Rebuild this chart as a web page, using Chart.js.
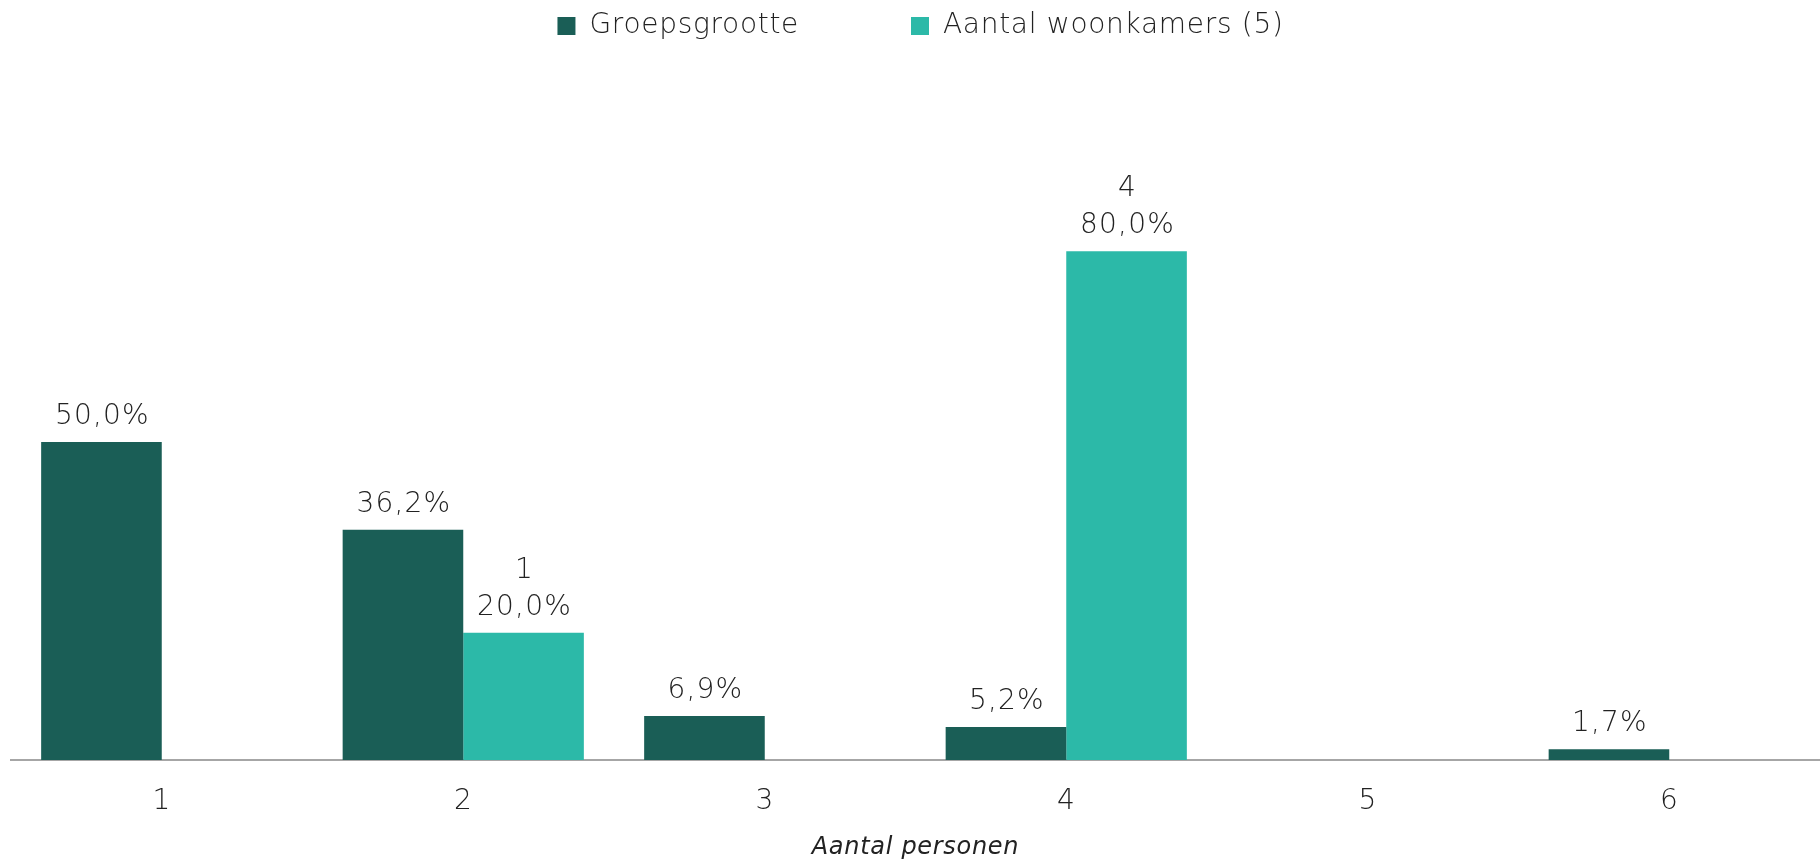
<!DOCTYPE html>
<html>
<head>
<meta charset="utf-8">
<script src="https://cdn.jsdelivr.net/npm/chart.js@4/dist/chart.umd.min.js"></script>
<style>
  html, body { margin: 0; padding: 0; background: #fff; }
  canvas { display: block; }
</style>
</head>
<body>
<canvas id="myChart" width="1820" height="864"></canvas>
<script>
const categories = ['1', '2', '3', '4', '5', '6'];
const groepsgrootte = [50.0, 36.2, 6.9, 5.2, null, 1.7];
const woonkamers = [null, 20.0, null, 80.0, null, null];
const woonkamersAantal = [null, 1, null, 4, null, null];

const FONT = '"DejaVu Sans", sans-serif';
const TEXT = '#222222';

function pct(v) {
    return v.toFixed(1).replace('.', ',') + '%';
}

/* ruimte onder de legenda + iets bredere letters */
const legendSpacer = {
    id: 'legendSpacer',
    beforeInit(chart) {
        const fit = chart.legend.fit;
        chart.legend.fit = function () {
            fit.bind(chart.legend)();
            this.height += 74;
        };
    },
    beforeUpdate(chart) {
        chart.ctx.letterSpacing = '0.7px';
    }
};

/* waarden boven de staven */
const barLabels = {
    id: 'barLabels',
    afterDatasetsDraw(chart) {
        const ctx = chart.ctx;
        ctx.save();
        ctx.font = '300 28px ' + FONT;
        ctx.letterSpacing = '1.2px';
        ctx.fillStyle = TEXT;
        ctx.textAlign = 'center';
        ctx.textBaseline = 'alphabetic';
        chart.data.datasets.forEach(function (ds, i) {
            chart.getDatasetMeta(i).data.forEach(function (bar, j) {
                const v = ds.data[j];
                if (v === null) return;
                const y = bar.y - 18;
                ctx.fillText(pct(v), bar.x + 1, y);
                if (ds.counts) {
                    ctx.fillText(String(ds.counts[j]), bar.x + 1, y - 37);
                }
            });
        });
        ctx.restore();
    }
};

var ctx = document.getElementById('myChart').getContext('2d');
var myChart = new Chart(ctx, {
    type: 'bar',
    data: {
        labels: categories,
        datasets: [{
            label: 'Groepsgrootte',
            data: groepsgrootte,
            backgroundColor: '#1a5e56',
            categoryPercentage: 0.8,
            barPercentage: 1.0
        }, {
            label: 'Aantal woonkamers (5)',
            data: woonkamers,
            counts: woonkamersAantal,
            backgroundColor: '#2cb9a8',
            categoryPercentage: 0.8,
            barPercentage: 1.0
        }]
    },
    options: {
        responsive: false,
        devicePixelRatio: 1,
        animation: false,
        layout: {
            padding: { top: -100, left: 11, right: -10, bottom: 0 }
        },
        plugins: {
            legend: {
                position: 'top',
                labels: {
                    font: { family: FONT, size: 28, weight: '300', lineHeight: 1 },
                    color: TEXT,
                    boxWidth: 18,
                    boxHeight: 18,
                    padding: 112
                }
            },
            tooltip: { enabled: false }
        },
        scales: {
            x: {
                grid: { display: false, drawTicks: false },
                border: { display: true, color: '#a6a6a6', width: 2 },
                ticks: {
                    font: { family: FONT, size: 28, weight: '300', lineHeight: 1 },
                    color: TEXT,
                    padding: 28
                },
                title: {
                    display: true,
                    text: 'Aantal personen',
                    font: { family: FONT, size: 24, weight: '300', style: 'italic', lineHeight: 1 },
                    color: TEXT,
                    padding: { top: -8, bottom: 4 }
                }
            },
            y: {
                display: false,
                min: 0,
                max: 100
            }
        }
    },
    plugins: [legendSpacer, barLabels]
});
</script>
</body>
</html>
